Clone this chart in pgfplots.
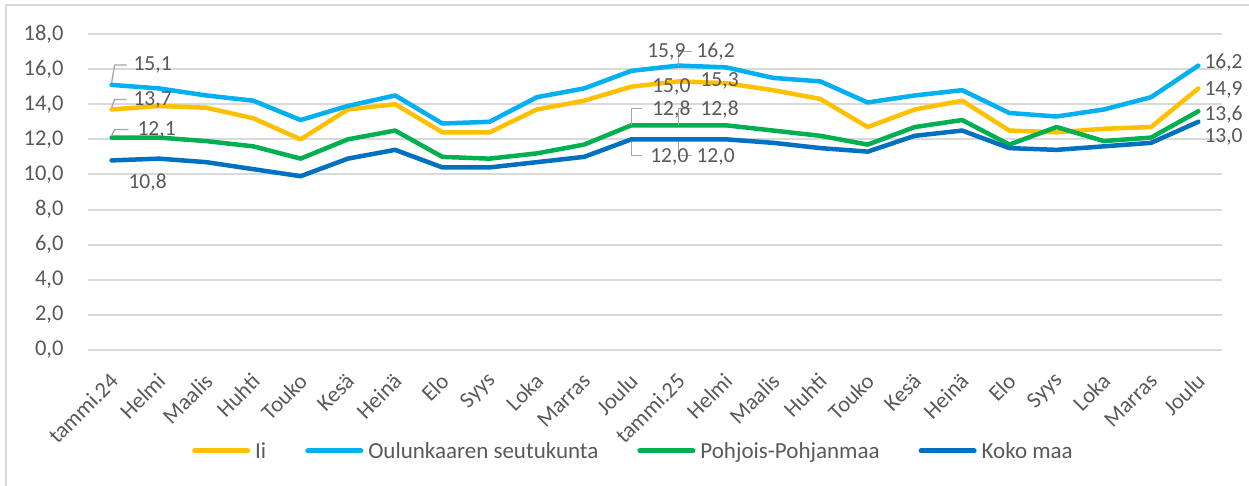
\documentclass[border=0pt]{standalone}
\usepackage{fontspec}
\setmainfont{Carlito}
\usepackage{pgfplots}
\usepackage{pgfplotstable}
\pgfplotsset{compat=1.18}

\definecolor{cIi}{HTML}{FFC000}
\definecolor{cOu}{HTML}{00B0F0}
\definecolor{cPP}{HTML}{00B050}
\definecolor{cKo}{HTML}{0070C0}
\definecolor{txtgray}{HTML}{595959}
\definecolor{gridgray}{HTML}{D9D9D9}
\definecolor{leadgray}{HTML}{A6A6A6}

% x = month index, 0 = tammi.24 ... 23 = Joulu 2025
\pgfplotstableread{
x   ii    ou    pp    kk
0   13.7  15.1  12.1  10.8
1   13.9  14.9  12.1  10.9
2   13.8  14.5  11.9  10.7
3   13.2  14.2  11.6  10.3
4   12.0  13.1  10.9  9.9
5   13.7  13.9  12.0  10.9
6   14.0  14.5  12.5  11.4
7   12.4  12.9  11.0  10.4
8   12.4  13.0  10.9  10.4
9   13.7  14.4  11.2  10.7
10  14.2  14.9  11.7  11.0
11  15.0  15.9  12.8  12.0
12  15.3  16.2  12.8  12.0
13  15.2  16.1  12.8  12.0
14  14.8  15.5  12.5  11.8
15  14.3  15.3  12.2  11.5
16  12.7  14.1  11.7  11.3
17  13.7  14.5  12.7  12.2
18  14.2  14.8  13.1  12.5
19  12.5  13.5  11.7  11.5
20  12.4  13.3  12.7  11.4
21  12.6  13.7  11.9  11.6
22  12.7  14.4  12.1  11.8
23  14.9  16.2  13.6  13.0
}\datatable

\begin{document}
\begin{tikzpicture}[x=1pt,y=1pt]
\useasboundingbox (0,0) rectangle (1249,486);
\draw[gridgray, line width=1.5pt] (6,0) -- (6,481) -- (1249,481);
\begin{axis}[
    at={(88pt,136pt)}, anchor=south west,
    scale only axis, width=1134pt, height=316pt,
    xmin=-0.5, xmax=23.5, ymin=0, ymax=18,
    xtick={0,...,23},
    xticklabels={tammi.24,Helmi,Maalis,Huhti,Touko,Kesä,Heinä,Elo,Syys,Loka,Marras,Joulu,
                 tammi.25,Helmi,Maalis,Huhti,Touko,Kesä,Heinä,Elo,Syys,Loka,Marras,Joulu},
    ytick={0,2,...,18},
    axis line style={draw=none}, tick style={draw=none},
    ymajorgrids, major grid style={gridgray, line width=2pt},
    tick label style={font=\fontsize{22.5}{26}\selectfont, text=txtgray},
    /pgf/number format/assume math mode=true,
    yticklabel style={/pgf/number format/.cd, fixed, fixed zerofill, precision=1, use comma,
                      /tikz/.cd, xshift=-21pt},
    xticklabel style={xshift=5pt, yshift=-25pt, rotate=45, anchor=east},
    clip=false,
    legend columns=4,
    legend style={at={(0.0917,-0.3196)}, anchor=west, draw=none, fill=none,
        font=\fontsize{23}{26}\selectfont, text=txtgray, inner sep=0pt,
        nodes={inner sep=0pt},
        /tikz/column 1/.style={column sep=5pt},
        /tikz/column 2/.style={column sep=39pt},
        /tikz/column 3/.style={column sep=5pt},
        /tikz/column 4/.style={column sep=39pt},
        /tikz/column 5/.style={column sep=5pt},
        /tikz/column 6/.style={column sep=39pt},
        /tikz/column 7/.style={column sep=5pt}},
    legend image code/.code={\draw[#1, line width=5pt] (0pt,0pt) -- (53pt,0pt);},
    every axis plot/.append style={line width=4.5pt, line join=round, line cap=round},
]
\addplot[cIi, no marks] table[x=x, y=ii] {\datatable};
\addlegendentry{Ii}
\addplot[cOu, no marks] table[x=x, y=ou] {\datatable};
\addlegendentry{Oulunkaaren seutukunta}
\addplot[cPP, no marks] table[x=x, y=pp] {\datatable};
\addlegendentry{Pohjois-Pohjanmaa}
\addplot[cKo, no marks] table[x=x, y=kk] {\datatable};
\addlegendentry{Koko maa}

% data labels
\tikzset{lab/.style={font=\fontsize{21.5}{25}\selectfont, text=txtgray, inner sep=0pt},
         lead/.style={leadgray, line width=1.3pt}}
\draw[lead] (axis cs:0,15.1) ++(0pt,2pt) -- ++(3pt,18pt) -- ++(12pt,0pt);
\node[lab] at (axis cs:0,15.1) [xshift=41pt, yshift=20pt] {15,1};
\draw[lead] (axis cs:0,13.7) ++(0pt,2pt) -- ++(3pt,8pt) -- ++(12pt,0pt);
\node[lab] at (axis cs:0,13.7) [xshift=41pt, yshift=10pt] {13,7};
\draw[lead] (axis cs:0,12.1) ++(0pt,2pt) -- ++(3pt,6pt) -- ++(14pt,0pt);
\node[lab] at (axis cs:0,12.1) [xshift=45pt, yshift=8pt] {12,1};
\node[lab] at (axis cs:0,10.8) [xshift=36pt, yshift=-22pt] {10,8};

\draw[lead] (axis cs:12,16.2) -- ++(0pt,14pt) -- ++(13pt,0pt);
\node[lab] at (axis cs:11,15.9) [xshift=35pt, yshift=19pt] {15,9};
\node[lab] at (axis cs:12,16.2) [xshift=37pt, yshift=14pt] {16,2};
\node[lab] at (axis cs:11,15.0) [xshift=40pt, yshift=0pt] {15,0};
\node[lab] at (axis cs:12,15.3) [xshift=41pt, yshift=0pt] {15,3};
\draw[lead] (axis cs:11,12.8) -- ++(0pt,17pt) -- ++(11pt,0pt);
\draw[lead] (axis cs:12,12.8) -- ++(0pt,17pt) -- ++(13pt,0pt);
\node[lab] at (axis cs:11,12.8) [xshift=40pt, yshift=16pt] {12,8};
\node[lab] at (axis cs:12,12.8) [xshift=41pt, yshift=16pt] {12,8};
\draw[lead] (axis cs:11,12.0) ++(0pt,-3pt) -- ++(0pt,-13pt) -- ++(11pt,0pt);
\draw[lead] (axis cs:12,12.0) ++(0pt,-3pt) -- ++(0pt,-13pt) -- ++(13pt,0pt);
\node[lab] at (axis cs:11,12.0) [xshift=38pt, yshift=-18pt] {12,0};
\node[lab] at (axis cs:12,12.0) [xshift=37pt, yshift=-18pt] {12,0};

\node[lab, anchor=west] at (axis cs:23,16.2) [xshift=6pt, yshift=3pt] {16,2};
\node[lab, anchor=west] at (axis cs:23,14.9) [xshift=6pt, yshift=-1pt] {14,9};
\node[lab, anchor=west] at (axis cs:23,13.6) [xshift=6pt, yshift=-3pt] {13,6};
\node[lab, anchor=west] at (axis cs:23,13.0) [xshift=6pt, yshift=-15pt] {13,0};
\end{axis}
\end{tikzpicture}
\end{document}
